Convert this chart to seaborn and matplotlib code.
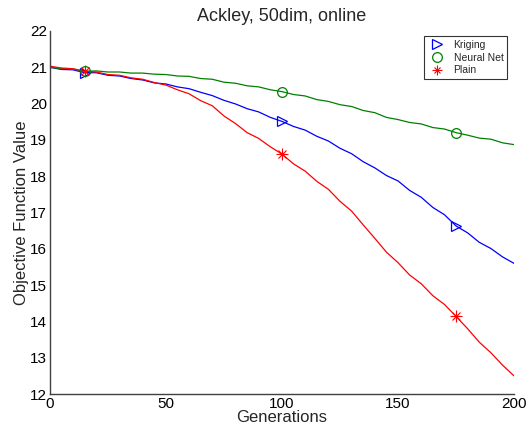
import numpy as np
import pandas as pd
import matplotlib
matplotlib.use("Agg")
import matplotlib.pyplot as plt
import seaborn as sns
from matplotlib.lines import Line2D
from matplotlib.legend_handler import HandlerTuple

generations = [0, 5, 10, 15, 20, 25, 30, 35, 40, 45, 50, 55, 60, 65, 70, 75, 80, 85, 90, 95,
               100, 105, 110, 115, 120, 125, 130, 135, 140, 145, 150, 155, 160, 165, 170, 175,
               180, 185, 190, 195, 200]

kriging = [21.00, 20.94, 20.93, 20.85, 20.85, 20.78, 20.76, 20.69, 20.65, 20.57, 20.54, 20.46,
           20.41, 20.31, 20.22, 20.09, 19.99, 19.86, 19.77, 19.62, 19.51, 19.37, 19.27, 19.10,
           18.97, 18.77, 18.62, 18.40, 18.23, 18.02, 17.87, 17.61, 17.42, 17.14, 16.94, 16.63,
           16.44, 16.18, 16.01, 15.78, 15.60]

neural_net = [21.00, 20.96, 20.95, 20.89, 20.90, 20.87, 20.87, 20.84, 20.84, 20.81, 20.80, 20.76,
              20.75, 20.69, 20.67, 20.59, 20.56, 20.49, 20.46, 20.38, 20.33, 20.25, 20.21, 20.11,
              20.06, 19.97, 19.92, 19.81, 19.75, 19.62, 19.56, 19.48, 19.44, 19.34, 19.30, 19.20,
              19.13, 19.05, 19.02, 18.92, 18.87]

plain = [21.03, 20.98, 20.96, 20.89, 20.87, 20.80, 20.78, 20.71, 20.67, 20.58, 20.51, 20.38,
         20.27, 20.08, 19.94, 19.66, 19.45, 19.20, 19.04, 18.81, 18.61, 18.34, 18.14, 17.86,
         17.64, 17.31, 17.04, 16.66, 16.29, 15.91, 15.62, 15.28, 15.04, 14.71, 14.47, 14.14,
         13.80, 13.43, 13.14, 12.80, 12.50]

marker_gens = [15, 100, 175]
series_names = ["Kriging", "Neural Net", "Plain"]
colors = {"Kriging": (0, 0, 1), "Neural Net": (0, 0.5, 0), "Plain": (1, 0, 0)}
markers = {"Kriging": ">", "Neural Net": "o", "Plain": "*"}

sns.set_style("white")
plt.rcParams['font.family'] = ['Liberation Sans', 'DejaVu Sans']

df = pd.DataFrame({
    "Generations": generations * 3,
    "Value": kriging + neural_net + plain,
    "Method": ["Kriging"] * len(generations) + ["Neural Net"] * len(generations) + ["Plain"] * len(generations),
})

fig = plt.figure(figsize=(5.30, 4.36), dpi=100)
ax = fig.add_axes([0.094, 0.096, 0.876, 0.833])

sns.lineplot(data=df, x="Generations", y="Value", hue="Method", palette=colors,
             ax=ax, linewidth=0.9, legend=False)

mk = df[df["Generations"].isin(marker_gens)]
for name in series_names:
    sub = mk[mk["Method"] == name]
    if markers[name] == "*":
        ax.plot(sub["Generations"], sub["Value"], linestyle="none", marker="+",
                color=colors[name], markersize=8, markeredgewidth=0.8)
        ax.plot(sub["Generations"], sub["Value"], linestyle="none", marker="x",
                color=colors[name], markersize=6, markeredgewidth=0.8)
    else:
        ax.plot(sub["Generations"], sub["Value"], linestyle="none", marker=markers[name],
                markerfacecolor="none", markeredgecolor=colors[name], markersize=7,
                markeredgewidth=0.9)

ax.set_xlim(0, 200)
ax.set_ylim(12, 22)
ax.set_xticks([0, 50, 100, 150, 200])
ax.set_yticks(list(range(12, 23)))
ax.tick_params(direction="in", length=4, width=0.8, labelsize=11, colors="black", pad=2)
for s in ["top", "right"]:
    ax.spines[s].set_visible(False)
for s in ["left", "bottom"]:
    ax.spines[s].set_color("#404040")
    ax.spines[s].set_linewidth(1.0)

ax.set_xlabel("Generations", fontsize=12, labelpad=-1)
ax.set_ylabel("Objective Function Value", fontsize=12, labelpad=1)
ax.set_title("Ackley, 50dim, online", fontsize=13, pad=7)

handles = []
for name in series_names:
    if markers[name] == "*":
        h = (Line2D([], [], linestyle="none", marker="+", color=colors[name], markersize=7,
                    markeredgewidth=0.8),
             Line2D([], [], linestyle="none", marker="x", color=colors[name], markersize=5,
                    markeredgewidth=0.8))
    else:
        h = Line2D([], [], linestyle="none", marker=markers[name], markerfacecolor="none",
                   markeredgecolor=colors[name], markersize=7, markeredgewidth=0.9)
    handles.append(h)
leg = ax.legend(handles, series_names, loc="upper right", bbox_to_anchor=(0.985, 0.985),
                fontsize=7.5, frameon=True, fancybox=False, borderpad=0.35, labelspacing=0.25,
                handletextpad=0.6, handlelength=1.9, borderaxespad=0,
                handler_map={tuple: HandlerTuple(ndivide=1, pad=0)})
leg.get_frame().set_edgecolor("black")
leg.get_frame().set_linewidth(0.8)

fig.savefig("out.png", dpi=100)
